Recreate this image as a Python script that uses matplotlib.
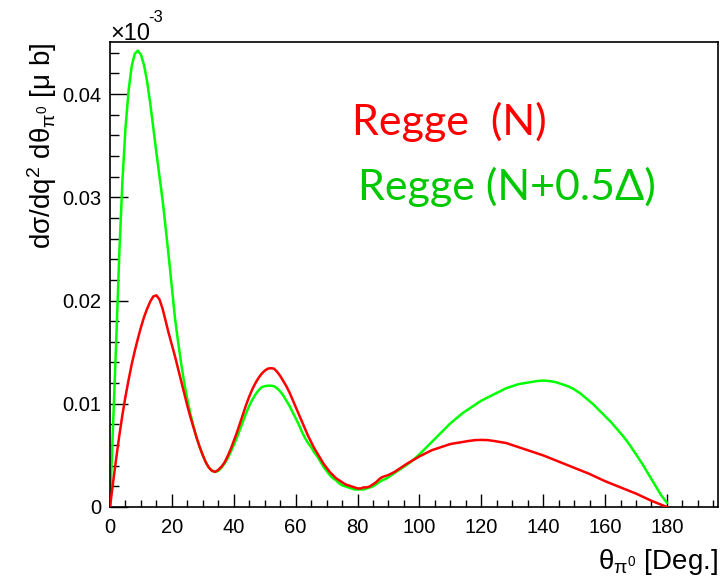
import numpy as np
import matplotlib
matplotlib.use("Agg")
import matplotlib.pyplot as plt
from matplotlib.ticker import MultipleLocator

plt.rcParams['font.family'] = ['Liberation Sans', 'DejaVu Sans']
plt.rcParams['mathtext.fontset'] = 'custom'
plt.rcParams['mathtext.rm'] = 'Liberation Sans'
plt.rcParams['mathtext.it'] = 'Liberation Sans'
plt.rcParams['mathtext.default'] = 'regular'

# ---- data ----
red_theta = [0, 1, 2, 3, 4, 5, 6, 7, 8, 9, 10, 11, 12, 13, 14, 15, 16, 17, 18, 19, 20,
             21, 22, 23, 24, 25, 26, 27, 28, 29, 30, 31, 32, 33, 34, 35, 36, 37, 38, 39,
             40, 41, 42, 43, 44, 45, 46, 47, 48, 49, 50, 51, 52, 53, 54, 55, 56, 57, 58,
             59, 60, 61, 62, 63, 64, 65, 66, 67, 68, 69, 70, 71, 72, 73, 74, 75, 76, 77,
             78, 79, 80, 81, 82, 83, 84, 85, 86, 87, 88, 89, 90, 92, 94, 96, 98, 100, 102,
             104, 106, 108, 110, 112, 114, 116, 118, 120, 122, 124, 126, 128, 130, 132,
             134, 136, 138, 140, 145, 150, 155, 160, 165, 170, 175, 180]
red_val = [0, 0.0024, 0.0047, 0.0069, 0.0089, 0.0107, 0.0123, 0.0138, 0.0151, 0.0163,
           0.0174, 0.0184, 0.0192, 0.0199, 0.0204, 0.0205, 0.0201, 0.0192, 0.0180, 0.0168,
           0.0157, 0.0146, 0.0134, 0.0122, 0.0110, 0.0098, 0.0087, 0.0077, 0.0067, 0.0058,
           0.0050, 0.0043, 0.0038, 0.0035, 0.0034, 0.0036, 0.0039, 0.0043, 0.0049, 0.0056,
           0.0064, 0.0072, 0.0081, 0.0090, 0.0099, 0.0107, 0.0114, 0.0120, 0.0125, 0.0129,
           0.0132, 0.0134, 0.01345, 0.0134, 0.0131, 0.0127, 0.0122, 0.0117, 0.0111, 0.0104,
           0.0097, 0.0090, 0.0083, 0.0076, 0.0069, 0.0063, 0.0057, 0.0052, 0.0047, 0.0042,
           0.0038, 0.0034, 0.0031, 0.0028, 0.0026, 0.0024, 0.0022, 0.0021, 0.0020, 0.0019,
           0.0018, 0.0018, 0.0019, 0.0019, 0.0020, 0.0022, 0.0024, 0.0027, 0.0029, 0.0030,
           0.0031, 0.0034, 0.0038, 0.0042, 0.00455, 0.0049, 0.0052, 0.0055, 0.0057, 0.0059,
           0.0061, 0.0062, 0.0063, 0.0064, 0.00648, 0.0065, 0.00648, 0.0064, 0.0063, 0.0062,
           0.0060, 0.0058, 0.0056, 0.0054, 0.0052, 0.0050, 0.0044, 0.0038, 0.0032, 0.0025,
           0.0019, 0.0013, 0.0006, 0.0]

green_theta = [0, 1, 2, 3, 4, 5, 6, 7, 8, 9, 10, 11, 12, 13, 14, 15, 16, 17, 18, 19, 20,
               21, 22, 23, 24, 25, 26, 27, 28, 29, 30, 31, 32, 33, 34, 35, 36, 37, 38, 39,
               40, 41, 42, 43, 44, 45, 46, 47, 48, 49, 50, 51, 52, 53, 54, 55, 56, 57, 58,
               59, 60, 61, 62, 63, 64, 65, 66, 67, 68, 69, 70, 71, 72, 73, 74, 75, 76, 77,
               78, 79, 80, 81, 82, 83, 84, 85, 86, 87, 88, 89, 90, 92, 94, 96, 98, 100, 102,
               104, 106, 108, 110, 112, 114, 116, 118, 120, 122, 124, 126, 128, 130, 132,
               134, 136, 138, 140, 142, 144, 146, 148, 150, 152, 154, 156, 158, 160, 162,
               164, 166, 168, 170, 172, 174, 176, 178, 180]
green_val = [0, 0.0080, 0.0160, 0.0245, 0.0315, 0.0367, 0.0403, 0.0427, 0.0439, 0.0442,
             0.0438, 0.0428, 0.0412, 0.0391, 0.0367, 0.0343, 0.0320, 0.0297, 0.0270, 0.0242,
             0.0212, 0.0183, 0.0160, 0.0139, 0.0120, 0.0104, 0.0090, 0.0078, 0.0067, 0.0058,
             0.0050, 0.0043, 0.0038, 0.0035, 0.0034, 0.0035, 0.0038, 0.0042, 0.0047, 0.0053,
             0.0060, 0.0067, 0.0075, 0.0083, 0.0091, 0.0098, 0.0104, 0.0109, 0.0113, 0.0116,
             0.0117, 0.01175, 0.01175, 0.0117, 0.0115, 0.0112, 0.0108, 0.0103, 0.0098, 0.0092,
             0.0086, 0.0080, 0.0073, 0.0067, 0.0062, 0.0058, 0.0053, 0.0049, 0.0044, 0.0039,
             0.0035, 0.0031, 0.0028, 0.0026, 0.0023, 0.0021, 0.0020, 0.0019, 0.0018, 0.0017,
             0.0017, 0.0017, 0.0017, 0.0018, 0.0019, 0.0020, 0.0022, 0.0024, 0.0026, 0.0027,
             0.0029, 0.0033, 0.0037, 0.0041, 0.00455, 0.0051, 0.0057, 0.0063, 0.0069, 0.0075,
             0.0081, 0.0086, 0.0091, 0.0095, 0.0099, 0.0103, 0.0106, 0.0109, 0.0112, 0.0115,
             0.0117, 0.0119, 0.0120, 0.0121, 0.0122, 0.01225, 0.0122, 0.0121, 0.0119, 0.0117,
             0.0114, 0.0110, 0.0105, 0.0100, 0.0094, 0.0088, 0.0082, 0.0075, 0.0068, 0.0060,
             0.0051, 0.0042, 0.0032, 0.0022, 0.0012, 0.0004]

x_ticks = [0, 20, 40, 60, 80, 100, 120, 140, 160, 180]
y_ticks = [0, 0.01, 0.02, 0.03, 0.04]
y_ticklabels = ['0', '0.01', '0.02', '0.03', '0.04']

label_red = 'Regge  (N)'
label_green = 'Regge (N+0.5\u0394)'

fig = plt.figure(figsize=(7.2, 5.85), dpi=100)
ax = fig.add_axes([110/720, 1-507/585, 608/720, 465/585])

ax.plot(red_theta, red_val, color='#ff0000', lw=1.8, zorder=3, solid_joinstyle='round')
ax.plot(green_theta, green_val, color='#00ff00', lw=1.8, zorder=2, solid_joinstyle='round')

ax.set_xlim(0, 196.5)
ax.set_ylim(0, 0.04504)
ax.set_xticks(x_ticks)
ax.set_xticklabels([str(t) for t in x_ticks])
ax.set_yticks(y_ticks)
ax.set_yticklabels(y_ticklabels)
ax.xaxis.set_minor_locator(MultipleLocator(5))
ax.yaxis.set_minor_locator(MultipleLocator(0.002))

ax.tick_params(axis='both', which='both', direction='in', colors='black', labelsize=14.5)
ax.tick_params(axis='y', which='major', length=13, width=1, pad=6)
ax.tick_params(axis='y', which='minor', length=6.5, width=1)
ax.tick_params(axis='x', which='major', length=9.5, width=1, pad=8)
ax.tick_params(axis='x', which='minor', length=5, width=1)
for s in ax.spines.values():
    s.set_linewidth(1.2)

# axis titles (ROOT style)
ax.text(-0.112, 1.0, r'd$\sigma$/dq$^{2}$ d$\theta_{\pi^{0}}$ [$\mu$ b]', rotation=90,
        ha='center', va='top', fontsize=20, transform=ax.transAxes)
ax.text(1.0, -0.085, r'$\theta_{\pi^{0}}$ [Deg.]', ha='right', va='top', fontsize=20,
        transform=ax.transAxes)
fig.text(110/720, 1-40/585, '\u00d710', ha='left', va='baseline', fontsize=17)
fig.text(148/720, 1-22/585, '-3', ha='left', va='baseline', fontsize=12)

# annotations
fig.text(352/720, 1-135/585, label_red, color='#ff0000', fontsize=31,
         family=['Lato', 'DejaVu Sans'], ha='left', va='baseline')
fig.text(358/720, 1-200/585, label_green, color='#00c800', fontsize=31,
         family=['Lato', 'DejaVu Sans'], ha='left', va='baseline')

fig.savefig('out.png', dpi=100)
